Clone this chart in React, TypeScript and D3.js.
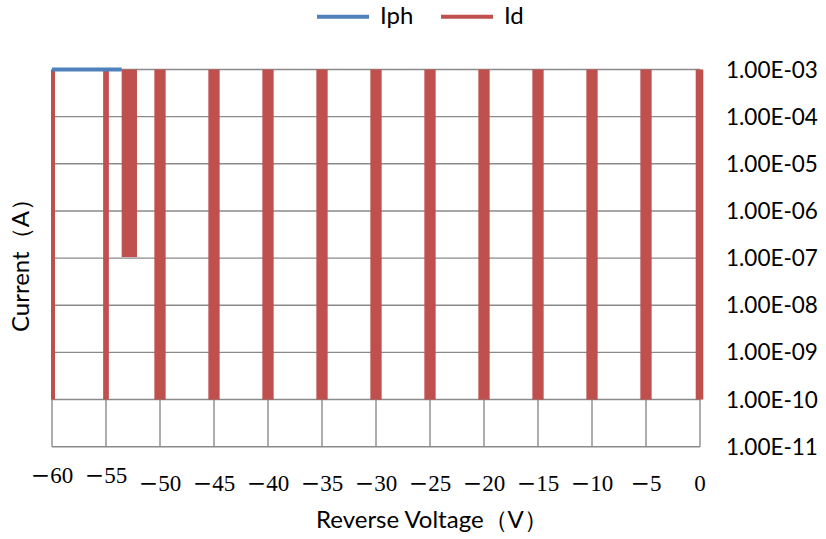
import React from 'react';
import * as d3 from 'd3';

// ---- data ----
const xTicks = [-60, -55, -50, -45, -40, -35, -30, -25, -20, -15, -10, -5, 0];
const yTicks = [1e-3, 1e-4, 1e-5, 1e-6, 1e-7, 1e-8, 1e-9, 1e-10, 1e-11];
const yTickLabels = ['1.00E-03', '1.00E-04', '1.00E-05', '1.00E-06', '1.00E-07', '1.00E-08', '1.00E-09', '1.00E-10', '1.00E-11'];

const idVoltage = [-60, -55, -52.84, -50, -45, -40, -35, -30, -25, -20, -15, -10, -5, 0];
const idHigh = [1e-3, 1e-3, 1e-3, 1e-3, 1e-3, 1e-3, 1e-3, 1e-3, 1e-3, 1e-3, 1e-3, 1e-3, 1e-3, 1e-3];
const idLow = [1e-10, 1e-10, 1.05e-7, 1e-10, 1e-10, 1e-10, 1e-10, 1e-10, 1e-10, 1e-10, 1e-10, 1e-10, 1e-10, 1e-10];

const iphVoltage = [-60, -55, -53.55];
const iphCurrent = [1e-3, 1e-3, 1e-3];

// ---- styles ----
const RED = '#C0504D';
const BLUE = '#4F81BD';
const GRID = '#8A8A8A';
const SANS = 'Lato, "Open Sans", sans-serif';
const SERIF = '"Liberation Serif", serif';

export default function App() {
  const x = d3.scaleLinear().domain([-60, 0]).range([52, 700]);
  const y = d3.scaleLog().domain([1e-11, 1e-3]).range([446.7, 69.5]);

  const barW = (i: number) => {
    if (i === 0) return 4;
    if (i === 1) return 5.7;
    if (i === 2) return 15.3;
    if (i === idVoltage.length - 1) return 7.6;
    return 11.3;
  };
  const barOffset = (i: number) => (i === 0 ? 1 : i === idVoltage.length - 1 ? -0.5 : 0);

  const iphLine = d3
    .line<number>()
    .x((_, i) => x(iphVoltage[i]))
    .y((d) => y(d));

  return (
    <svg width={826} height={539} style={{ position: 'fixed', left: 0, top: 0, background: '#fff' }}>
      {/* horizontal grid */}
      {yTicks.map((t) => (
        <line key={'h' + t} x1={x(-60)} x2={x(0)} y1={y(t)} y2={y(t)} stroke={GRID} strokeWidth={1.4} />
      ))}
      {/* vertical grid */}
      {xTicks.map((t) => (
        <line key={'v' + t} x1={x(t)} x2={x(t)} y1={y(1e-3)} y2={y(1e-11)} stroke={GRID} strokeWidth={1.4} />
      ))}
      {/* Id bars */}
      {idVoltage.map((v, i) => {
        const w = barW(i);
        const cx = x(v) + barOffset(i);
        return (
          <rect
            key={'b' + i}
            x={cx - w / 2}
            width={w}
            y={y(idHigh[i])}
            height={y(idLow[i]) - y(idHigh[i])}
            fill={RED}
          />
        );
      })}
      {/* Iph line */}
      <path d={iphLine(iphCurrent) || ''} stroke={BLUE} strokeWidth={4} fill="none" />
      {/* y tick labels */}
      {yTicks.map((t, i) => (
        <text key={'yl' + t} x={726} y={y(t) + 8} fontFamily={SANS} fontSize={22.5} fill="#000">
          {yTickLabels[i]}
        </text>
      ))}
      {/* x tick labels */}
      {xTicks.map((t) => (
        <text
          key={'xl' + t}
          x={x(t)}
          y={t <= -55 ? 483 : 491}
          textAnchor="middle"
          fontFamily={SERIF}
          fontSize={23}
          fill="#000"
        >
          {t < 0 ? (
            <>
              <tspan fontFamily='"DejaVu Serif", serif' fontWeight={300}>{'\u2212'}</tspan>
              {String(Math.abs(t))}
            </>
          ) : (
            String(t)
          )}
        </text>
      ))}
      {/* axis titles */}
      <text x={316} y={528} fontFamily={SANS} fontSize={24} fill="#000">
        Reverse Voltage（V）
      </text>
      <text transform="translate(29,332) rotate(-90)" fontFamily={SANS} fontSize={24} fill="#000">
        Current（A）
      </text>
      {/* legend */}
      <line x1={317} x2={369} y1={16.7} y2={16.7} stroke={BLUE} strokeWidth={4} />
      <text x={380} y={24} fontFamily={SANS} fontSize={24} fill="#000">
        Iph
      </text>
      <line x1={441} x2={493} y1={16.7} y2={16.7} stroke={RED} strokeWidth={4} />
      <text x={504} y={24} fontFamily={SANS} fontSize={24} fill="#000">
        Id
      </text>
    </svg>
  );
}
